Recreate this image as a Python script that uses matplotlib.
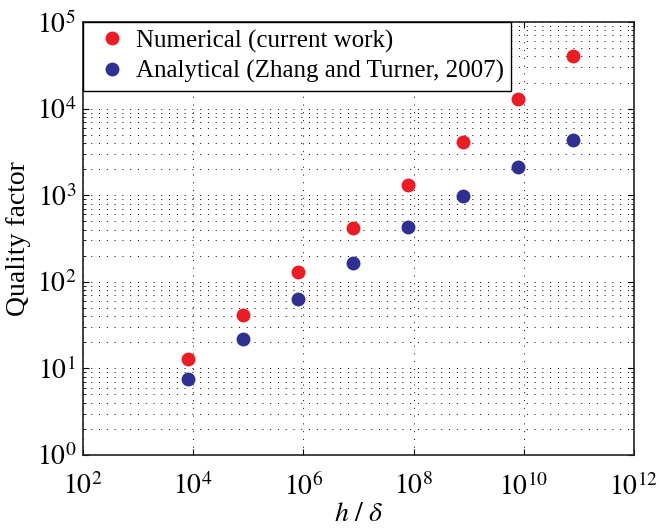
import math
import matplotlib
matplotlib.use("Agg")
import matplotlib.pyplot as plt
import matplotlib.ticker as ticker

# values (log-log)
h_over_delta = [8.1e3, 8.1e4, 7.9e5, 8.0e6, 7.9e7, 7.9e8, 7.9e9, 7.7e10]
q_numerical = [12.8, 41, 129, 418, 1310, 4150, 12900, 40500]
q_analytical = [7.5, 21.9, 63, 166, 433, 971, 2100, 4300]
x_ticks = [1e2, 1e4, 1e6, 1e8, 1e10, 1e12]

red = "#ED1C24"
blue = "#2E3192"

plt.rcParams["font.family"] = ["Liberation Serif", "DejaVu Serif"]
plt.rcParams["mathtext.fontset"] = "stix"

fig = plt.figure(figsize=(6.59, 5.32), dpi=100)
ax = fig.add_axes([83 / 659, 1 - 455 / 532, 551 / 659, 433 / 532])

ax.plot(h_over_delta, q_numerical, "o", color=red, markersize=10,
        markeredgewidth=0, label="Numerical (current work)", zorder=3)
ax.plot(h_over_delta, q_analytical, "o", color=blue, markersize=10,
        markeredgewidth=0, label="Analytical (Zhang and Turner, 2007)", zorder=3)

ax.set_xscale("log")
ax.set_yscale("log")
ax.set_xlim(1e2, 1e12)
ax.set_ylim(1e0, 1e5)

pow_fmt = ticker.FuncFormatter(lambda v, p: r"$10^{%d}$" % round(math.log10(v)))
ax.xaxis.set_major_locator(ticker.FixedLocator(x_ticks))
ax.xaxis.set_major_formatter(pow_fmt)
ax.xaxis.set_minor_locator(ticker.NullLocator())
ax.yaxis.set_major_locator(ticker.LogLocator(base=10, numticks=20))
ax.yaxis.set_major_formatter(pow_fmt)
ax.yaxis.set_minor_locator(ticker.LogLocator(base=10, subs=range(2, 10), numticks=20))
ax.yaxis.set_minor_formatter(ticker.NullFormatter())

ax.tick_params(which="both", direction="in", top=True, right=True, labelsize=20)
ax.tick_params(which="major", length=4, width=0.8)
ax.tick_params(which="minor", length=2.5, width=0.6)
ax.tick_params(axis="x", pad=13)
ax.tick_params(axis="y", pad=5)

grid_style = dict(color="black", linewidth=0.7, linestyle=(0, (1, 7)))
ax.xaxis.grid(True, which="major", **grid_style)
ax.yaxis.grid(True, which="both", **grid_style)
ax.set_axisbelow(True)

for s in ax.spines.values():
    s.set_linewidth(1.2)
    s.set_color("#222222")

ax.set_xlabel(r"$h\ /\ \delta$", fontsize=20, labelpad=1)
ax.set_ylabel("Quality factor", fontsize=20, labelpad=4)

leg = ax.legend(loc="upper left", bbox_to_anchor=(0, 1), borderaxespad=0,
                fontsize=18, numpoints=1, fancybox=False, framealpha=1,
                edgecolor="black", borderpad=0.3, labelspacing=0.3,
                handlelength=1.7, handletextpad=0.1)
leg.get_frame().set_linewidth(1.0)
leg.set_zorder(5)

fig.savefig("out.png", dpi=100)
